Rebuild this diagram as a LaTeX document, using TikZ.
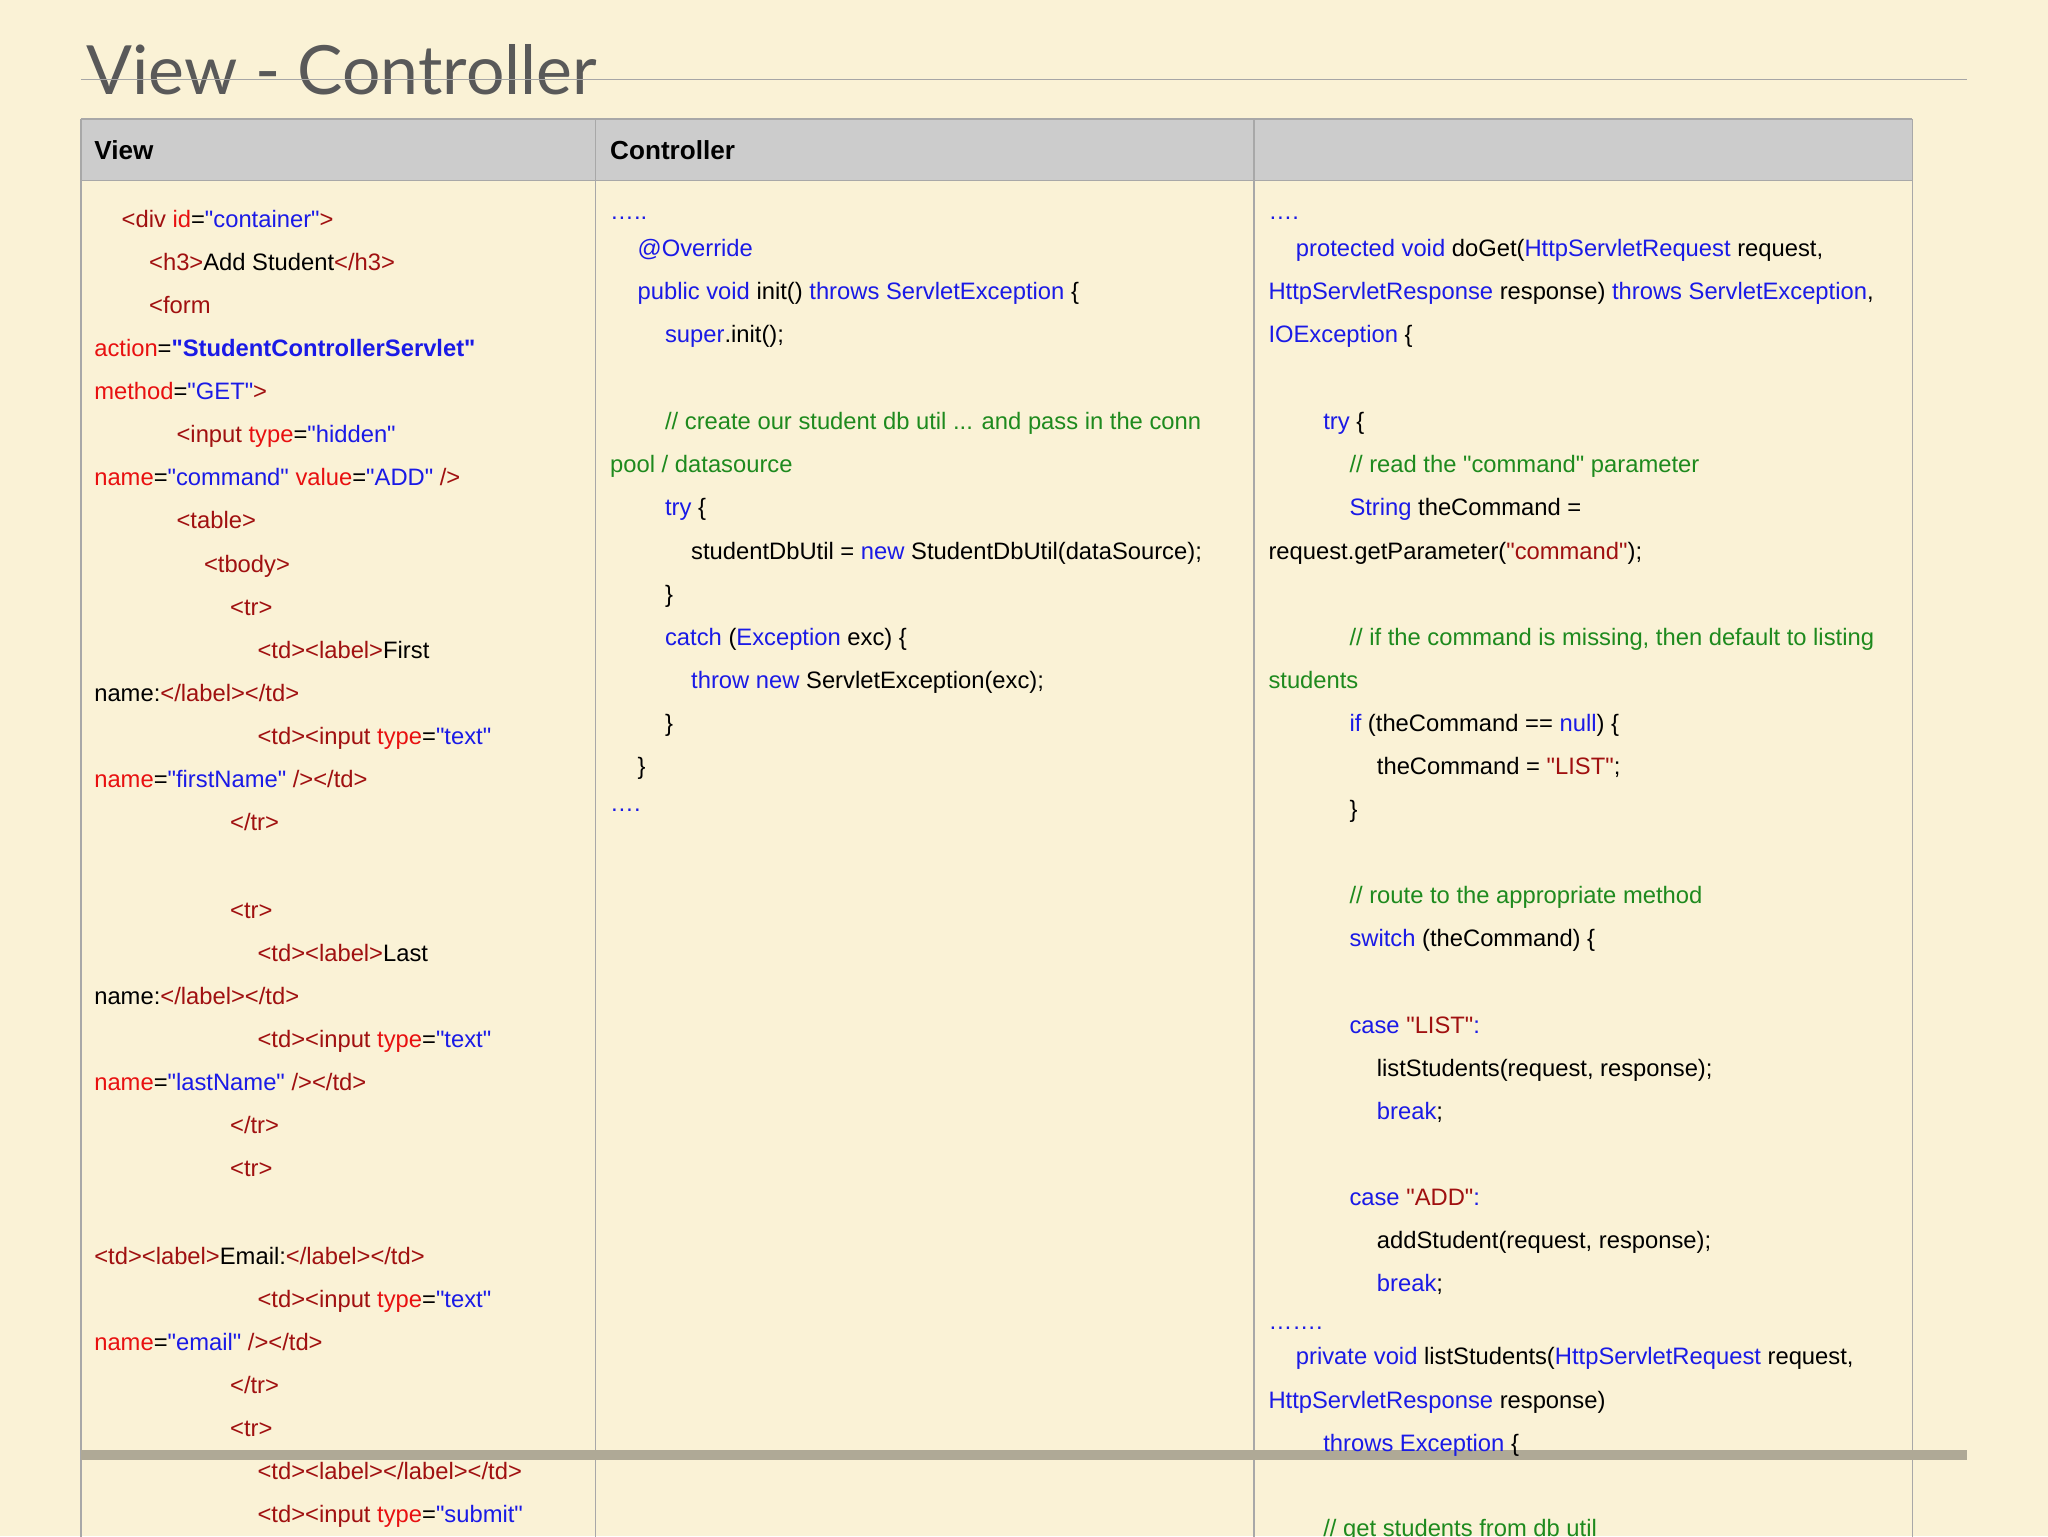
\documentclass[tikz,border=0pt]{standalone}
\usepackage{fontspec}
\setmainfont{Liberation Sans}[Ligatures=TeXOff]
\newfontfamily\titlefont{Lato}
\definecolor{bg}{HTML}{FAF2D6}
\definecolor{tagc}{HTML}{A01010}
\definecolor{attc}{HTML}{E81010}
\definecolor{valc}{HTML}{1A1AE6}
\definecolor{kwc}{HTML}{1A1AE6}
\definecolor{cmc}{HTML}{1E8A1E}
\definecolor{strc}{HTML}{A01010}
\definecolor{gridc}{HTML}{A8A8A8}
\definecolor{headc}{HTML}{CCCCCC}
\newcommand{\tg}[1]{\textcolor{tagc}{#1}}
\newcommand{\at}[1]{\textcolor{attc}{#1}}
\newcommand{\vl}[1]{\textcolor{valc}{#1}}
\newcommand{\kw}[1]{\textcolor{kwc}{#1}}
\newcommand{\cm}[1]{\textcolor{cmc}{#1}}
\newcommand{\st}[1]{\textcolor{strc}{#1}}
\newcommand{\Ln}[4]{\node[codeline] (#1) at (#2,#3+6) {#4};}
\tikzset{codeline/.style={anchor=base west,inner sep=0pt,font=\fontsize{18.2}{22}\selectfont}}
\begin{document}
\begin{tikzpicture}[x=1pt,y=-1pt]
\fill[bg] (0,0) rectangle (1568,1176);
\useasboundingbox (0,0) rectangle (1568,1176);
\begin{scope}
\clip (0,0) rectangle (1568,1176);
% title
\node[anchor=base west,inner sep=0pt,font=\titlefont\fontsize{52}{60}\selectfont,text=black!65] (title) at (66,72) {View - Controller};
\draw[gray!70,line width=1pt] (62,61) -- (1506,61);
% table
\fill[headc] (62,91) rectangle (1464,138);
\draw[gridc,line width=1pt] (62,91) -- (1464,91) (62,138) -- (1464,138)
  (62,91) -- (62,1180) (456,91) -- (456,1180) (960,91) -- (960,1180) (1464,91) -- (1464,1180);
\node[anchor=base west,inner sep=0pt,font=\fontsize{20}{24}\selectfont\bfseries] (h1) at (72,122) {View};
\node[anchor=base west,inner sep=0pt,font=\fontsize{20}{24}\selectfont\bfseries] (h2) at (467,122) {Controller};
\fill[black!30!bg] (62,1110) rectangle (1506,1118);
% column 1
\Ln{a1}{93}{168}{\tg{<div} \at{id}=\vl{"container"}\tg{>}}
\Ln{a2}{114}{201}{\tg{<h3>}Add Student\tg{</h3>}}
\Ln{a3}{114}{234}{\tg{<form}}
\Ln{a4}{72}{267}{\at{action}=\vl{\bfseries"StudentControllerServlet"}}
\Ln{a5}{72}{300}{\at{method}=\vl{"GET"}\tg{>}}
\Ln{a6}{135}{333}{\tg{<input} \at{type}=\vl{"hidden"}}
\Ln{a7}{72}{366}{\at{name}=\vl{"command"} \at{value}=\vl{"ADD"} \tg{/>}}
\Ln{a8}{135}{399}{\tg{<table>}}
\Ln{a9}{156}{432}{\tg{<tbody>}}
\Ln{a10}{176}{465}{\tg{<tr>}}
\Ln{a11}{197}{498}{\tg{<td><label>}First}
\Ln{a12}{72}{531}{name:\tg{</label></td>}}
\Ln{a13}{197}{564}{\tg{<td><input} \at{type}=\vl{"text"}}
\Ln{a14}{72}{597}{\at{name}=\vl{"firstName"} \tg{/></td>}}
\Ln{a15}{176}{630}{\tg{</tr>}}
\Ln{a16}{176}{697}{\tg{<tr>}}
\Ln{a17}{197}{730}{\tg{<td><label>}Last}
\Ln{a18}{72}{763}{name:\tg{</label></td>}}
\Ln{a19}{197}{796}{\tg{<td><input} \at{type}=\vl{"text"}}
\Ln{a20}{72}{829}{\at{name}=\vl{"lastName"} \tg{/></td>}}
\Ln{a21}{176}{862}{\tg{</tr>}}
\Ln{a22}{176}{895}{\tg{<tr>}}
\Ln{a23}{72}{962}{\tg{<td><label>}Email:\tg{</label></td>}}
\Ln{a24}{197}{995}{\tg{<td><input} \at{type}=\vl{"text"}}
\Ln{a25}{72}{1028}{\at{name}=\vl{"email"} \tg{/></td>}}
\Ln{a26}{176}{1061}{\tg{</tr>}}
\Ln{a27}{176}{1094}{\tg{<tr>}}
\Ln{a28}{197}{1127}{\tg{<td><label></label></td>}}
\Ln{a29}{197}{1160}{\tg{<td><input} \at{type}=\vl{"submit"}}
% column 2
\Ln{b1}{467}{162}{\kw{…..}}
\Ln{b2}{488}{190}{\kw{@Override}}
\Ln{b3}{488}{223}{\kw{public void} init() \kw{throws ServletException} \{}
\Ln{b4}{509}{256}{\kw{super}.init();}
\Ln{b5}{509}{323}{\cm{// create our student db util ... and pass in the conn}}
\Ln{b6}{467}{356}{\cm{pool / datasource}}
\Ln{b7}{509}{389}{\kw{try} \{}
\Ln{b8}{529}{422}{studentDbUtil = \kw{new} StudentDbUtil(dataSource);}
\Ln{b9}{509}{455}{\}}
\Ln{b10}{509}{488}{\kw{catch} (\kw{Exception} exc) \{}
\Ln{b11}{529}{521}{\kw{throw new} ServletException(exc);}
\Ln{b12}{509}{554}{\}}
\Ln{b13}{488}{587}{\}}
\Ln{b14}{467}{615}{\kw{….}}
% column 3
\Ln{c1}{971}{162}{\kw{….}}
\Ln{c2}{992}{190}{\kw{protected void} doGet(\kw{HttpServletRequest} request,}
\Ln{c3}{971}{223}{\kw{HttpServletResponse} response) \kw{throws ServletException},}
\Ln{c4}{971}{256}{\kw{IOException} \{}
\Ln{c5}{1013}{323}{\kw{try} \{}
\Ln{c6}{1033}{356}{\cm{// read the "command" parameter}}
\Ln{c7}{1033}{389}{\kw{String} theCommand =}
\Ln{c8}{971}{422}{request.getParameter(\st{"command"});}
\Ln{c9}{1033}{488}{\cm{// if the command is missing, then default to listing}}
\Ln{c10}{971}{521}{\cm{students}}
\Ln{c11}{1033}{554}{\kw{if} (theCommand == \kw{null}) \{}
\Ln{c12}{1054}{587}{theCommand = \st{"LIST"};}
\Ln{c13}{1033}{620}{\}}
\Ln{c14}{1033}{686}{\cm{// route to the appropriate method}}
\Ln{c15}{1033}{719}{\kw{switch} (theCommand) \{}
\Ln{c16}{1033}{785}{\kw{case} \st{"LIST"}\kw{:}}
\Ln{c17}{1054}{818}{listStudents(request, response);}
\Ln{c18}{1054}{851}{\kw{break};}
\Ln{c19}{1033}{917}{\kw{case} \st{"ADD"}\kw{:}}
\Ln{c20}{1054}{950}{addStudent(request, response);}
\Ln{c21}{1054}{983}{\kw{break};}
\Ln{c22}{971}{1012}{\kw{…….}}
\Ln{c23}{992}{1039}{\kw{private void} listStudents(\kw{HttpServletRequest} request,}
\Ln{c24}{971}{1072}{\kw{HttpServletResponse} response)}
\Ln{c25}{1013}{1105}{\kw{throws Exception} \{}
\Ln{c26}{1013}{1170}{\cm{// get students from db util}}
\end{scope}
\end{tikzpicture}
\end{document}
